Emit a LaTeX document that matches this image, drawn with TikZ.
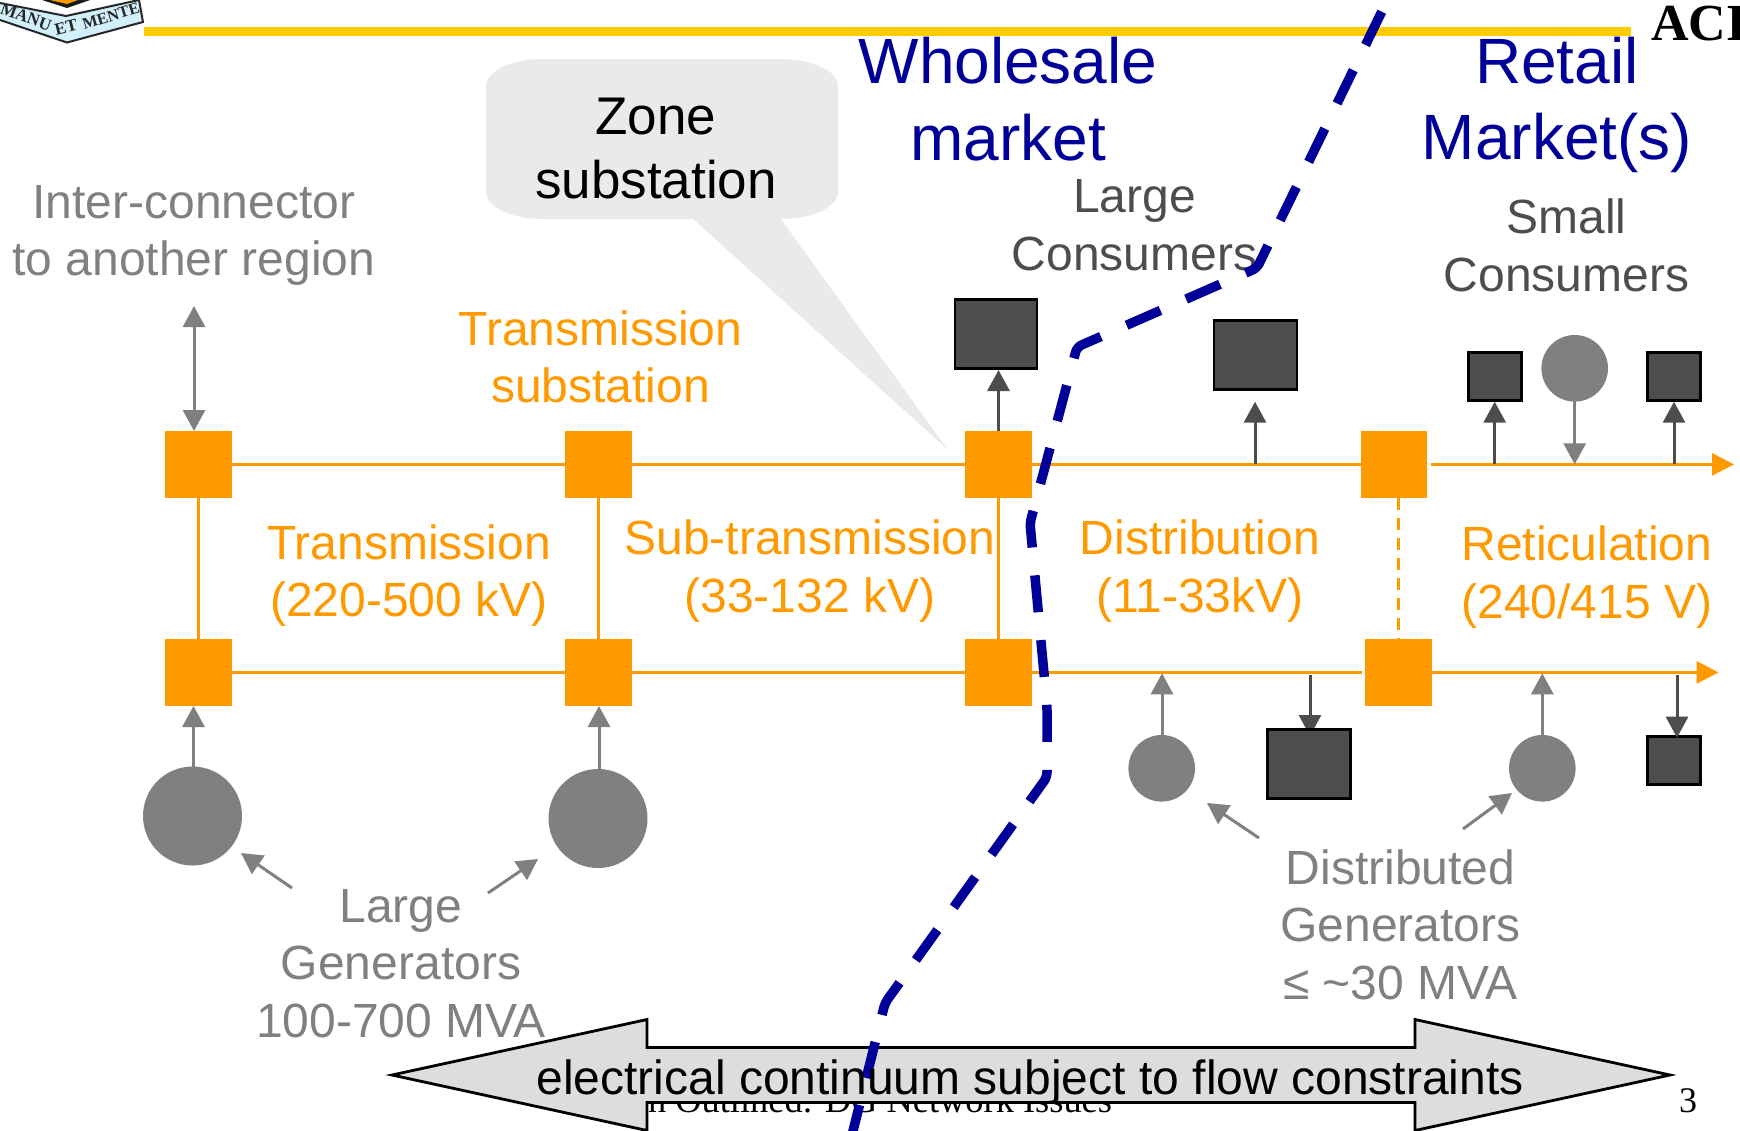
\documentclass[tikz,border=0pt]{standalone}
\usepackage{fontspec}
\setmainfont{Liberation Sans}
\newfontfamily\seriffont{Liberation Serif}
\usetikzlibrary{arrows.meta}
\definecolor{bus}{HTML}{FF9900}
\definecolor{gen}{HTML}{808080}
\definecolor{load}{HTML}{4D4D4D}
\definecolor{mkt}{HTML}{000099}
\definecolor{bar}{HTML}{FFCC00}
\definecolor{callout}{HTML}{EAEAEA}
\definecolor{band}{HTML}{DDDDDD}
\tikzset{
 every node/.style={inner sep=0pt,outer sep=0pt},
 busnode/.style={fill=bus,minimum width=66.7pt,minimum height=66.7pt},
 busline/.style={draw=bus,line width=3pt},
 busarrow/.style={busline,-{Triangle[length=22pt,width=22pt,fill=bus]}},
 loadbox/.style={fill=load,draw=black,line width=2.6pt},
 genball/.style={circle,fill=gen},
 garrow/.style={draw=gen,line width=3pt,-{Triangle[length=21pt,width=22pt,fill=gen]}},
 larrow/.style={draw=load,line width=3pt,-{Triangle[length=21pt,width=22pt,fill=load]}},
 sz/.style={font=\fontsize{48}{57.6}\selectfont,align=center},
 orangetxt/.style={sz,text=bus},
 graytxt/.style={sz,text=gen},
 darktxt/.style={sz,text=load},
 mkttxt/.style={font=\fontsize{64}{76.5}\selectfont,align=center,text=mkt},
 logotxt/.style={font=\seriffont\bfseries\fontsize{#1}{#1}\selectfont,text=black!85},
}
\begin{document}
\begin{tikzpicture}[x=1pt,y=-1pt]
\useasboundingbox (0,0) rectangle (1740,1130);
% logo fragment
\fill[black!90] (42,0) -- (67,8) -- (90,0) -- cycle;
\fill[bus] (50,0) -- (67,4) -- (78,0) -- cycle;
\draw[draw=black!85,fill=cyan!18!white,line width=2pt] (0,3) -- (66,16) -- (139,0) -- (143,22) -- (67,42.5) -- (0,20);
\node[logotxt=17,rotate=-20] (logoa) at (26,17) {MANU};
\node[logotxt=17,rotate=14] (logob) at (66,27) {ET};
\node[logotxt=16,rotate=17] (logoc) at (111,16) {MENTE};
% header
\fill[bar] (144,27) rectangle (1631,36);
\node[anchor=base west,font=\seriffont\bfseries\fontsize{52}{52}\selectfont] (aci) at (1651,40) {ACI};
% callout
\fill[callout] (543,59) -- (781,59) arc[start angle=90,end angle=0,x radius=57pt,y radius=27pt] -- (838,192) arc[start angle=0,end angle=-90,x radius=57pt,y radius=27pt] -- (543,219) arc[start angle=-90,end angle=-180,x radius=57pt,y radius=27pt] -- (486,86) arc[start angle=180,end angle=90,x radius=57pt,y radius=27pt] -- cycle;
\fill[callout] (692,218) -- (948,450) -- (780,218) -- cycle;
\node[font=\fontsize{53}{64}\selectfont,align=center] (zone) at (656,148.5) {Zone\\substation};
% bus nodes
\node[busnode] (a1) at (198.5,464.4) {};
\node[busnode] (a2) at (598.7,464.4) {};
\node[busnode] (a3) at (998.4,464.4) {};
\node[busnode] (a4) at (1394,464.4) {};
\node[busnode] (b1) at (198.5,672.4) {};
\node[busnode] (b2) at (598.7,672.4) {};
\node[busnode] (b3) at (998.4,672.4) {};
\node[busnode] (b4) at (1398.4,672.4) {};
\coordinate (aend) at (1734,464.4);
\coordinate (bend) at (1718.5,672.4);
\coordinate (a4r) at (1430.7,464.4);
\coordinate (b4l) at (1361.7,672.4);
\coordinate (a4s) at (1398.4,497.7);
\draw[busline] (a1) -- (a2);
\draw[busline] (a2) -- (a3);
\draw[busline] (a3) -- (a4);
\draw[busarrow] (a4r) -- (aend);
\draw[busline] (b1) -- (b2);
\draw[busline] (b2) -- (b3);
\draw[busline] (b3) -- (b4l);
\draw[busarrow] (b4.east) -- (bend);
\draw[busline] (a1) -- (b1);
\draw[busline] (a2) -- (b2);
\draw[busline] (a3) -- (b3);
\draw[busline,dash pattern=on 12pt off 8pt] (a4s) -- (b4.north);
% tap points
\coordinate (t1) at (998.5,431);
\coordinate (t1h) at (998.5,370);
\coordinate (t2) at (1255,464.4);
\coordinate (t2h) at (1255,401.7);
\coordinate (t3) at (1494.7,464.4);
\coordinate (t3h) at (1494.7,401.7);
\coordinate (t4) at (1674,464.4);
\coordinate (t4h) at (1674,401.7);
\coordinate (t5) at (1574.7,401);
\coordinate (t5h) at (1574.7,464.3);
\coordinate (t6) at (1310,675);
\coordinate (t6h) at (1310,736);
\coordinate (t7) at (1677,675);
\coordinate (t7h) at (1677,737.7);
\coordinate (t8) at (1162,735);
\coordinate (t8h) at (1162,673.3);
\coordinate (t9) at (1542.3,735);
\coordinate (t9h) at (1542.3,673.3);
\coordinate (t10) at (193.5,767);
\coordinate (t10h) at (193.5,706);
\coordinate (t11) at (599,769);
\coordinate (t11h) at (599,706);
\coordinate (ic) at (194,306);
\coordinate (ib) at (194,431);
\draw[larrow] (t6) -- (t6h);
% loads
\node[loadbox,minimum width=82pt,minimum height=69.5pt] (l1) at (996,334) {};
\node[loadbox,minimum width=83pt,minimum height=69.5pt] (l2) at (1255.4,355) {};
\node[loadbox,minimum width=53.5pt,minimum height=48pt] (l3) at (1495,376.3) {};
\node[loadbox,minimum width=53.5pt,minimum height=48pt] (l4) at (1674,376.3) {};
\node[loadbox,minimum width=83pt,minimum height=69.5pt] (l5) at (1309,764) {};
\node[loadbox,minimum width=53.5pt,minimum height=48pt] (l6) at (1674,760.3) {};
% generators
\node[genball,minimum size=66.6pt] (g1) at (1574.7,368.3) {};
\node[genball,minimum size=66.6pt] (g2) at (1161.7,768.3) {};
\node[genball,minimum size=66.6pt] (g3) at (1542.3,768.3) {};
\node[genball,minimum size=99pt] (g4) at (192.5,816) {};
\node[genball,minimum size=99pt] (g5) at (598,818.5) {};
\draw[larrow] (t1) -- (t1h);
\draw[larrow] (t2) -- (t2h);
\draw[larrow] (t3) -- (t3h);
\draw[larrow] (t4) -- (t4h);
\draw[larrow] (t7) -- (t7h);
\draw[garrow] (t5) -- (t5h);
\draw[garrow] (t8) -- (t8h);
\draw[garrow] (t9) -- (t9h);
\draw[garrow] (t10) -- (t10h);
\draw[garrow] (t11) -- (t11h);
\draw[draw=gen,line width=3pt,{Triangle[length=21pt,width=22pt,fill=gen]}-{Triangle[length=21pt,width=22pt,fill=gen]}] (ic) -- (ib);
% labels
\node[graytxt] (inter) at (194,235.5) {Inter-connector\\to another region};
\node[orangetxt] (tsub) at (600.5,357) {Transmission\\substation};
\node[orangetxt] (tx) at (409,575.5) {Transmission\\(220-500 kV)};
\node[orangetxt] (stx) at (810,571) {Sub-transmission\\(33-132 kV)};
\node[orangetxt] (dist) at (1200,571) {Distribution\\(11-33kV)};
\node[orangetxt] (ret) at (1587,577) {Reticulation\\(240/415 V)};
\node[graytxt] (lgen) at (401,963.5) {Large\\Generators\\100-700 MVA};
\node[graytxt] (dgen) at (1400.5,924.5) {Distributed\\Generators\\≤ \textasciitilde30 MVA};
\node[darktxt] (lcons) at (1134.5,225) {Large\\Consumers};
\node[darktxt] (scons) at (1566.5,245.5) {Small\\Consumers};
\node[mkttxt] (whole) at (1008,99) {Wholesale\\market};
\node[mkttxt] (retail) at (1557,105) {Retail\\Market(s)};
% label pointers
\coordinate (p1) at (292,888); \coordinate (p1h) at (241,853);
\coordinate (p2) at (488,893); \coordinate (p2h) at (538,859);
\coordinate (p3) at (1259,838); \coordinate (p3h) at (1207,803);
\coordinate (p4) at (1463,829); \coordinate (p4h) at (1512,793);
\draw[garrow] (p1) -- (p1h);
\draw[garrow] (p2) -- (p2h);
\draw[garrow] (p3) -- (p3h);
\draw[garrow] (p4) -- (p4h);
% footer
\node[anchor=base west,font=\seriffont\fontsize{36.4}{36.4}\selectfont] (foot) at (648,1112) {n Outlined: DG Network Issues};
\node[anchor=base,font=\seriffont\fontsize{36}{36}\selectfont] (pg) at (1688,1112) {3};
% band arrow
\draw[fill=band,draw=black,line width=2.8pt] (392,1075) -- (647,1019.5) -- (647,1047.5) -- (1415,1047.5) -- (1415,1019.5) -- (1670,1075) -- (1415,1130.5) -- (1415,1102.5) -- (647,1102.5) -- (647,1130.5) -- cycle;
% market boundary
\coordinate (m0) at (1381.7,11.7);
\coordinate (m1) at (1257,268);
\coordinate (m2) at (1077,347);
\coordinate (m3) at (1030,523);
\coordinate (m3b) at (1047,706);
\coordinate (m4) at (1047,777);
\coordinate (m5) at (885,1003);
\coordinate (m6) at (852,1135);
\draw[mkt,line width=9.5pt,rounded corners=5pt,dash pattern=on 37pt off 28pt] (m0) -- (m1) -- (m2) -- (m3) -- (m3b) -- (m4) -- (m5) -- (m6);
\node[font=\fontsize{48}{48}\selectfont] (cont) at (1030,1082) {electrical continuum subject to flow constraints};
\end{tikzpicture}
\end{document}
